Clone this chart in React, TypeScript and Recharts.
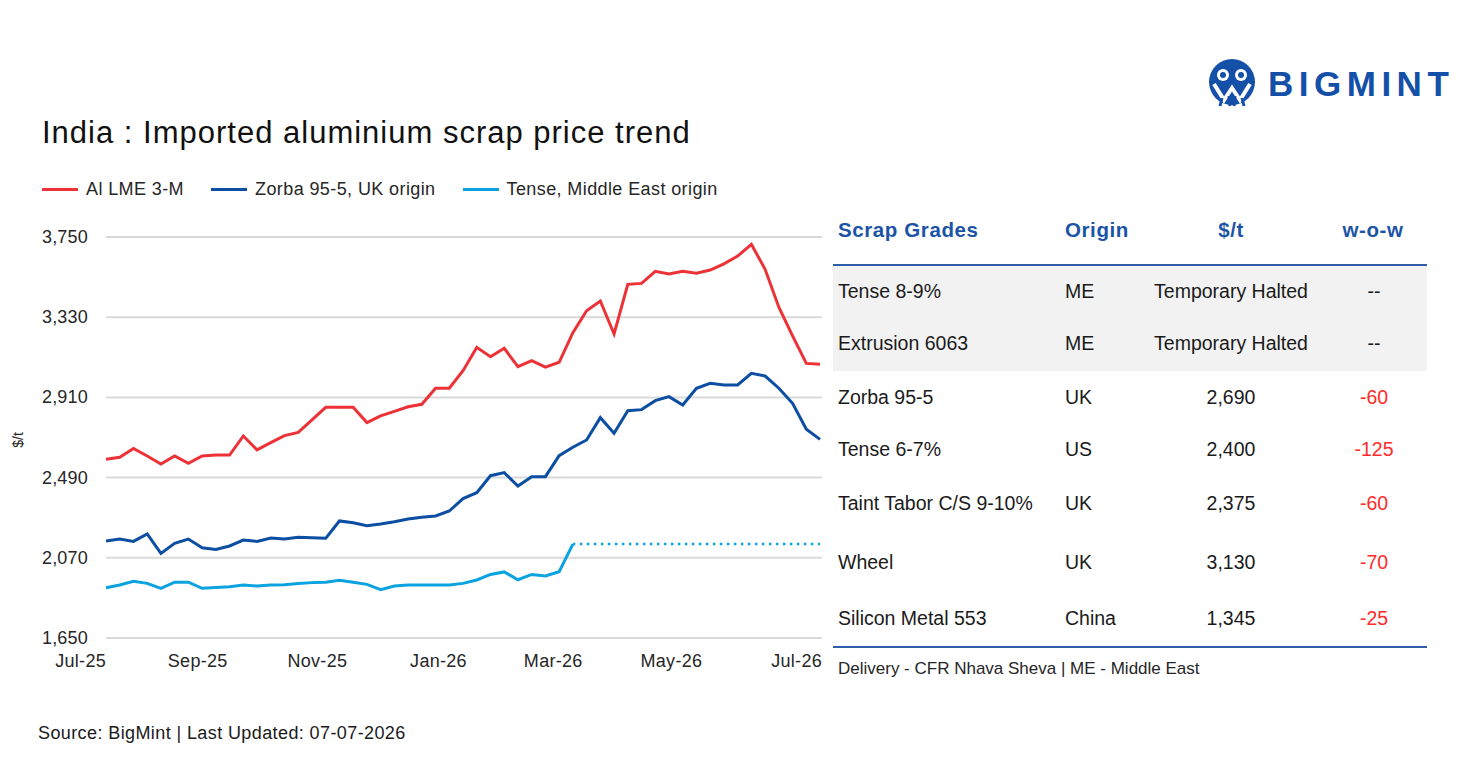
import React from 'react';
import { LineChart, Line, XAxis, YAxis, CartesianGrid } from 'recharts';

// Weekly prices, $/t, starting 1 Jul 2025 (one value per week)
const alLme = [
  2586, 2596, 2643, 2603, 2561, 2603, 2565, 2603, 2608, 2608, 2708, 2635, 2673, 2710,
  2727, 2792, 2858, 2858, 2858, 2778, 2813, 2837, 2861, 2874, 2958, 2958, 3050, 3172,
  3123, 3167, 3071, 3102, 3068, 3094, 3249, 3364, 3415, 3242, 3502, 3507, 3570, 3556,
  3570, 3560, 3577, 3609, 3650, 3712, 3581, 3382, 3232, 3088, 3083,
];
const zorba = [
  2158, 2168, 2156, 2195, 2093, 2146, 2168, 2123, 2114, 2132, 2163, 2156, 2174, 2168,
  2177, 2175, 2172, 2263, 2254, 2238, 2247, 2259, 2273, 2282, 2289, 2315, 2380, 2411,
  2500, 2516, 2446, 2495, 2495, 2605, 2649, 2687, 2804, 2722, 2840, 2846, 2893, 2914,
  2870, 2958, 2984, 2975, 2975, 3036, 3022, 2958, 2879, 2743, 2690,
];
const tense = [
  1913, 1928, 1947, 1936, 1910, 1942, 1942, 1910, 1915, 1919, 1928, 1922, 1928, 1929,
  1936, 1940, 1942, 1952, 1942, 1931, 1903, 1922, 1928, 1928, 1928, 1928, 1936, 1954,
  1983, 1996, 1955, 1983, 1975, 1997, 2142,
];
// Last quoted Tense price, carried forward while trade is halted
const tenseHeld = 2142;

const monthTicks = [0, 62, 123, 184, 243, 304, 365];
const monthLabels = ['Jul-25', 'Sep-25', 'Nov-25', 'Jan-26', 'Mar-26', 'May-26', 'Jul-26'];
const priceTicks = [1650, 2070, 2490, 2910, 3330, 3750];

const series = [
  { key: 'alLme', name: 'Al LME 3-M', color: '#EC3237' },
  { key: 'zorba', name: 'Zorba 95-5, UK origin', color: '#0B4EA2' },
  { key: 'tense', name: 'Tense, Middle East origin', color: '#0BA2E0' },
];

const gradeNames = ['Tense 8-9%', 'Extrusion 6063', 'Zorba 95-5', 'Tense 6-7%', 'Taint Tabor C/S 9-10%', 'Wheel', 'Silicon Metal 553'];
const gradeOrigins = ['ME', 'ME', 'UK', 'US', 'UK', 'UK', 'China'];
const gradePrices = ['Temporary Halted', 'Temporary Halted', '2,690', '2,400', '2,375', '3,130', '1,345'];
const gradeWow = ['--', '--', '-60', '-125', '-60', '-70', '-25'];

const chartData = alLme.map((v, i) => ({
  day: i * 7,
  alLme: v,
  zorba: zorba[i],
  tense: i < tense.length ? tense[i] : null,
  tenseHeld: i >= tense.length - 1 ? tenseHeld : null,
}));

const FONT = '"Liberation Sans", Arial, sans-serif';

const fmt = (v: number) => v.toLocaleString('en-US');

const MonthTick = (props: any) => {
  const { x, y, payload } = props;
  const idx = monthTicks.indexOf(payload.value);
  return (
    <text x={x} y={y} dy={13} textAnchor="end" fontSize={18} letterSpacing={0.3} fill="#262626" fontFamily={FONT}>
      {monthLabels[idx] ?? ''}
    </text>
  );
};

const PriceTick = (props: any) => {
  const { x, y, payload } = props;
  return (
    <text x={x} y={y} dy={6} textAnchor="end" fontSize={18} letterSpacing={0.2} fill="#262626" fontFamily={FONT}>
      {fmt(payload.value)}
    </text>
  );
};

const rowCenters = [291, 343, 397, 449, 503, 562, 618];

const Logo = () => (
  <svg width={260} height={70} style={{ position: 'absolute', left: 1200, top: 50 }}>
    <circle cx={32} cy={32} r={23} fill="#1450A8" />
    <circle cx={23} cy={25} r={6} fill="#fff" />
    <circle cx={41} cy={25} r={6} fill="#fff" />
    <circle cx={23} cy={25} r={3} fill="#1450A8" />
    <circle cx={41} cy={25} r={3} fill="#1450A8" />
    <path d="M14 34 L24 50 L32 38 L40 50 L50 34" stroke="#fff" strokeWidth={4} fill="none" />
    <path d="M22 48 L20 56 M42 48 L44 56 M29 46 L30 56 M35 46 L34 56" stroke="#1450A8" strokeWidth={3} />
    <text x={68} y={46} fontFamily={FONT} fontWeight={700} fontSize={35} letterSpacing={5.5} fill="#1450A8">
      BIGMINT
    </text>
  </svg>
);

const cellText = { fontSize: 19.5, color: '#1a1a1a', whiteSpace: 'nowrap' as const };

export default function App() {
  return (
    <div
      style={{
        position: 'absolute',
        left: 0,
        top: 0,
        width: 1460,
        height: 759,
        background: '#fff',
        fontFamily: FONT,
        color: '#1a1a1a',
        overflow: 'hidden',
      }}
    >
      <Logo />
      <div style={{ position: 'absolute', left: 42, top: 115, fontSize: 31, letterSpacing: 1, color: '#111', whiteSpace: 'nowrap' }}>
        India : Imported aluminium scrap price trend
      </div>

      {/* legend */}
      <div style={{ position: 'absolute', left: 42, top: 179, display: 'flex', alignItems: 'center', fontSize: 18, letterSpacing: 0.4, color: '#262626' }}>
        {series.map((s) => (
          <div key={s.key} style={{ display: 'flex', alignItems: 'center', marginRight: 27 }}>
            <div style={{ width: 36, height: 3, background: s.color, marginRight: 8 }} />
            <span style={{ whiteSpace: 'nowrap' }}>{s.name}</span>
          </div>
        ))}
      </div>

      <div style={{ position: 'absolute', left: 0, top: 0 }}>
        <LineChart width={840} height={690} data={chartData} margin={{ top: 237, right: 18, bottom: 12, left: 0 }}>
          <CartesianGrid vertical={false} stroke="#d9d9d9" strokeWidth={2} />
          <XAxis
            dataKey="day"
            type="number"
            domain={[0, 365]}
            ticks={monthTicks}
            interval={0}
            tick={<MonthTick />}
            tickLine={false}
            axisLine={false}
            tickSize={0}
            tickMargin={16}
            height={40}
          />
          <YAxis
            type="number"
            domain={[1650, 3750]}
            ticks={priceTicks}
            interval={0}
            tick={<PriceTick />}
            tickLine={false}
            axisLine={false}
            tickSize={0}
            tickMargin={18}
            width={106}
          />
          <Line dataKey="alLme" stroke={series[0].color} strokeWidth={3} dot={false} isAnimationActive={false} />
          <Line dataKey="zorba" stroke={series[1].color} strokeWidth={3} dot={false} isAnimationActive={false} />
          <Line dataKey="tense" stroke={series[2].color} strokeWidth={3} dot={false} isAnimationActive={false} />
          <Line
            dataKey="tenseHeld"
            stroke={series[2].color}
            strokeWidth={2.5}
            strokeDasharray="2.5 4.5"
            dot={false}
            isAnimationActive={false}
          />
        </LineChart>
      </div>

      <div
        style={{
          position: 'absolute',
          left: 10,
          top: 440,
          transform: 'translate(-50%, -50%) rotate(-90deg)',
          transformOrigin: 'center',
          fontSize: 14,
          color: '#262626',
          marginLeft: 8,
        }}
      >
        $/t
      </div>

      {/* price table */}
      <div style={{ position: 'absolute', left: 833, top: 266, width: 594, height: 105, background: '#f2f2f2' }} />
      <div style={{ position: 'absolute', left: 833, top: 264, width: 594, height: 2, background: '#2E5FAA' }} />
      <div style={{ position: 'absolute', left: 833, top: 646, width: 594, height: 2, background: '#2E5FAA' }} />

      {[
        { t: 'Scrap Grades', x: 838, a: 'left' },
        { t: 'Origin', x: 1065, a: 'left' },
        { t: '$/t', x: 1231, a: 'center' },
        { t: 'w-o-w', x: 1373, a: 'center' },
      ].map((h) => (
        <div
          key={h.t}
          style={{
            position: 'absolute',
            top: 230,
            left: h.a === 'left' ? h.x : h.x - 100,
            width: h.a === 'left' ? 'auto' : 200,
            textAlign: h.a as any,
            transform: 'translateY(-50%)',
            fontSize: 20.5,
            letterSpacing: 0.6,
            fontWeight: 700,
            color: '#1B54A6',
            whiteSpace: 'nowrap',
          }}
        >
          {h.t}
        </div>
      ))}

      {gradeNames.map((name, i) => (
        <React.Fragment key={name}>
          <div style={{ ...cellText, position: 'absolute', left: 838, top: rowCenters[i], transform: 'translateY(-50%)' }}>{name}</div>
          <div style={{ ...cellText, position: 'absolute', left: 1065, top: rowCenters[i], transform: 'translateY(-50%)' }}>{gradeOrigins[i]}</div>
          <div style={{ ...cellText, position: 'absolute', left: 1131, width: 200, textAlign: 'center', top: rowCenters[i], transform: 'translateY(-50%)' }}>
            {gradePrices[i]}
          </div>
          <div
            style={{
              ...cellText,
              position: 'absolute',
              left: 1324,
              width: 100,
              textAlign: 'center',
              top: rowCenters[i],
              transform: 'translateY(-50%)',
              color: gradeWow[i] !== '--' ? '#FF2A2A' : '#1a1a1a',
            }}
          >
            {gradeWow[i]}
          </div>
        </React.Fragment>
      ))}

      <div style={{ position: 'absolute', left: 838, top: 669, transform: 'translateY(-50%)', fontSize: 17, color: '#262626', whiteSpace: 'nowrap' }}>
        Delivery - CFR Nhava Sheva | ME - Middle East
      </div>

      <div style={{ position: 'absolute', left: 38, top: 733, transform: 'translateY(-50%)', fontSize: 18, letterSpacing: 0.4, color: '#1a1a1a', whiteSpace: 'nowrap' }}>
        Source: BigMint | Last Updated: 07-07-2026
      </div>
    </div>
  );
}
